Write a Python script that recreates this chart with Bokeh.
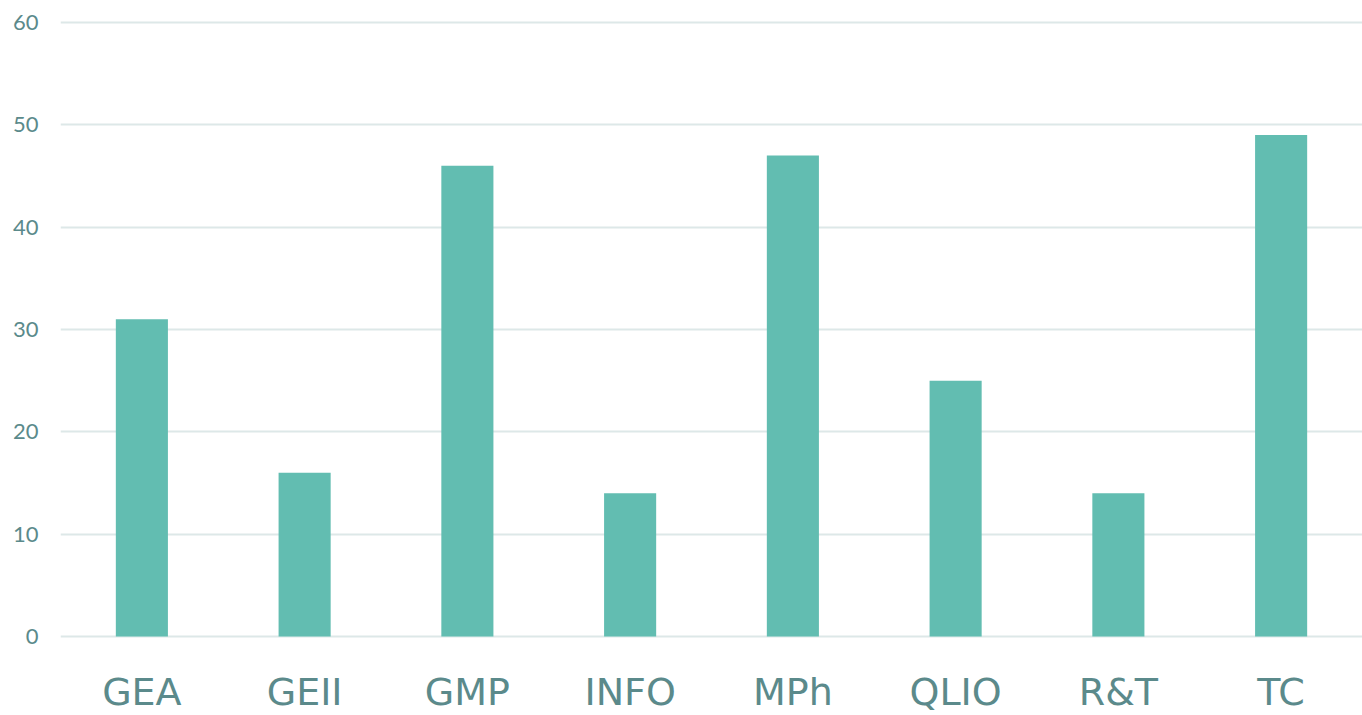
from bokeh.plotting import figure
from bokeh.models import FactorRange, Range1d, FixedTicker, ColumnDataSource
from bokeh.core.properties import value
from bokeh.embed import file_html
from bokeh.resources import INLINE

categories = ["GEA", "GEII", "GMP", "INFO", "MPh", "QLIO", "R&T", "TC"]
values = [31, 16, 46, 14, 47, 25, 14, 49]
y_ticks = [0, 10, 20, 30, 40, 50, 60]

BAR = "#62bdb1"
LABEL = "#5b8a8b"
GRID = "#dde8e8"

LABEL_Y = -3.32  # top of the category labels, in value units below zero

src = ColumnDataSource(data=dict(cat=categories, val=values,
                                 lab_y=[LABEL_Y] * len(categories)))

p = figure(
    x_range=FactorRange(*categories, range_padding=0),
    y_range=Range1d(-7.72, 60.2),
    width=1362, height=715,
    output_backend="svg", toolbar_location=None,
    min_border_left=60, min_border_right=0, min_border_top=20, min_border_bottom=0,
)
p.vbar(x="cat", top="val", width=0.32, source=src, color=BAR, line_color=None)
p.text(x="cat", y="lab_y", text="cat", source=src,
       text_align="center", text_baseline="top",
       text_font=value("'DejaVu Sans'"), text_font_size="38px",
       text_color=LABEL)

p.outline_line_color = None
p.xgrid.grid_line_color = None
p.ygrid.grid_line_color = GRID
p.ygrid.grid_line_width = 2
p.ygrid.ticker = FixedTicker(ticks=y_ticks)
p.yaxis.ticker = FixedTicker(ticks=y_ticks)

p.xaxis.visible = False

ax = p.yaxis[0]
ax.axis_line_color = None
ax.major_tick_line_color = None
ax.minor_tick_line_color = None
ax.major_tick_out = 0
ax.major_tick_in = 0
ax.major_label_text_color = LABEL
ax.major_label_text_font = "Lato"
ax.major_label_text_font_size = "22px"
ax.major_label_standoff = 22

open("out.html", "w").write(file_html(p, INLINE))
